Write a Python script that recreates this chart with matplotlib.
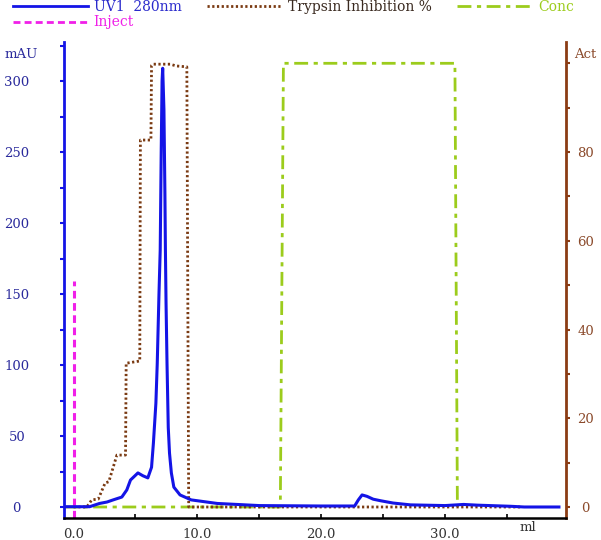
import numpy as np
import matplotlib.pyplot as plt
from matplotlib.transforms import blended_transform_factory

# UV trace (mAU) vs volume (ml)
uv_ml = [-0.77, 1.3, 2.1, 2.7, 3.2, 3.9, 4.3, 4.6, 5.2, 5.6, 6.0, 6.3, 6.45,
         6.65, 6.76, 6.9, 7.0, 7.08, 7.15, 7.2, 7.3, 7.38, 7.42, 7.47, 7.55,
         7.65, 7.75, 7.9, 8.1, 8.6, 9.5, 11.6, 15.0, 20.0, 22.7, 23.0, 23.3,
         23.7, 24.2, 24.8, 25.8, 27.2, 30.0, 31.5, 32.6, 35.3, 36.4, 39.2]
uv_mau = [0.2, 0.2, 2.5, 3.5, 5, 7, 12, 19, 24, 22, 20.5, 28, 45,
          73, 101, 150, 181, 250, 300, 309, 280, 220, 181, 144, 101,
          56, 38, 24, 14, 8.5, 5, 2.5, 1, 0.7, 0.7, 5, 8.5,
          7.5, 5.5, 4.4, 2.8, 1.5, 1, 1.8, 1.3, 0.5, 0, 0]

# trypsin inhibition (right axis)
act_ml = [0.0, 1.07, 1.47, 2.0, 2.55, 2.85, 3.5, 4.2, 4.25, 5.35, 5.4, 6.25,
          6.3, 6.45, 7.8, 8.3, 9.15, 9.3, 36.2]
act_val = [0, 0, 1.6, 1.8, 5.4, 5.7, 11.7, 11.7, 32.4, 32.9, 82.7, 82.7,
           99.5, 99.8, 99.8, 99.4, 99.2, 0, 0]

# concentration (%) on right axis
conc_ml = [-0.77, 16.7, 16.95, 30.8, 31.0]
conc_val = [0, 0, 100, 100, 0]

# injection mark
inj_ml = [0.0, 0.0]
inj_mau = [-7.75, 159]

x_ticks = [0, 10, 20, 30]
x_labels = ['0.0', '10.0', '20.0', '30.0']

blue = '#1414e6'
brown = '#7a3a12'
green = '#9ccc1c'
magenta = '#f020e8'
font = 'DejaVu Serif'
plt.rcParams['font.family'] = font

fig = plt.figure(figsize=(6.01, 5.40), dpi=100)
ax = fig.add_axes([64/601, 22/540, 502/601, 476/540])
ax2 = ax.twinx()

ax.set_xlim(-0.77, 39.77)
ax.set_ylim(-7.75, 327.5)
ax2.set_ylim(-2.48, 104.8)

# curves
ax2.plot(conc_ml, conc_val, color=green, lw=2, linestyle=(0, (5, 2, 1.5, 2)))
ax2.plot(act_ml, act_val, color=brown, lw=2, linestyle=(0, (0.8, 0.9)))
ax.plot(inj_ml, inj_mau, color=magenta, lw=2.2, linestyle=(0, (2.5, 1.5)))
ax.set_zorder(ax2.get_zorder() + 1)
ax.patch.set_visible(False)
ax.plot(uv_ml, uv_mau, color=blue, lw=2.2)

# spines
for a in (ax, ax2):
    a.spines['top'].set_visible(False)
ax.spines['right'].set_visible(False)
ax2.spines['left'].set_visible(False)
ax2.spines['bottom'].set_visible(False)
ax.spines['left'].set_color(blue)
ax.spines['left'].set_linewidth(2)
ax2.spines['right'].set_color('#8b3c14')
ax2.spines['right'].set_linewidth(2)
ax.spines['bottom'].set_color('black')
ax.spines['bottom'].set_linewidth(1.8)

# left axis ticks
ax.set_yticks(np.arange(0, 326, 25))
ax.set_yticklabels([str(v) if v % 50 == 0 and v <= 300 else '' for v in range(0, 326, 25)])
ax.tick_params(axis='y', direction='out', length=3, width=1.5, color=blue,
               labelcolor='#2a2a9c', labelsize=9.5, pad=31)
for t in ax.get_yticklabels():
    t.set_ha('center')

# right axis ticks
ax2.set_yticks(np.arange(0, 101, 10))
ax2.set_yticklabels([str(v) if v % 20 == 0 and v <= 80 else '' for v in range(0, 101, 10)])
ax2.tick_params(axis='y', direction='out', length=3, width=1.5, color='#8b3c14',
                labelcolor='#8b4a2b', labelsize=9.5, pad=11)
for t in ax2.get_yticklabels():
    t.set_ha('center')

# bottom axis ticks
ax.set_xticks(np.arange(0, 36, 5), minor=True)
ax.set_xticks(x_ticks)
ax.set_xticklabels(x_labels)
ax.tick_params(axis='x', which='both', direction='in', length=3, width=1.2,
               labelsize=9.5, labelcolor='#333333', pad=7)

trans = blended_transform_factory(ax.transData, ax.transAxes)
ax.text(36.7, -0.019, 'ml', transform=trans, ha='center', va='center',
        fontsize=9.5, color='#333333')

fig.text(21/601, 1 - 54/540, 'mAU', ha='center', va='center', fontsize=9.5, color='#2a2a9c')
fig.text(585/601, 1 - 55/540, 'Act', ha='center', va='center', fontsize=9.5, color='#8b4a2b')

# legend
h_uv, = ax.plot([], [], color=blue, lw=2)
h_inj, = ax.plot([], [], color=magenta, lw=2, linestyle=(0, (2.5, 1.5)))
h_act, = ax.plot([], [], color=brown, lw=2, linestyle=(0, (0.8, 0.9)))
h_conc, = ax.plot([], [], color=green, lw=2, linestyle=(0, (5, 2, 1.5, 2)))
leg = fig.legend([h_uv, h_inj, h_act, h_conc],
                 ['UV1  280nm', 'Inject', 'Trypsin Inhibition %', 'Conc'],
                 ncol=3, loc='upper left', bbox_to_anchor=(13/601, 1.0),
                 frameon=False, fontsize=10, handlelength=5.4, handletextpad=0.4,
                 columnspacing=1.85, labelspacing=0.1, borderpad=0.0,
                 borderaxespad=0.0)
for txt, c in zip(leg.get_texts(), ['#2a2acc', magenta, '#3a2a20', green]):
    txt.set_color(c)

fig.savefig('out.png', dpi=100)
